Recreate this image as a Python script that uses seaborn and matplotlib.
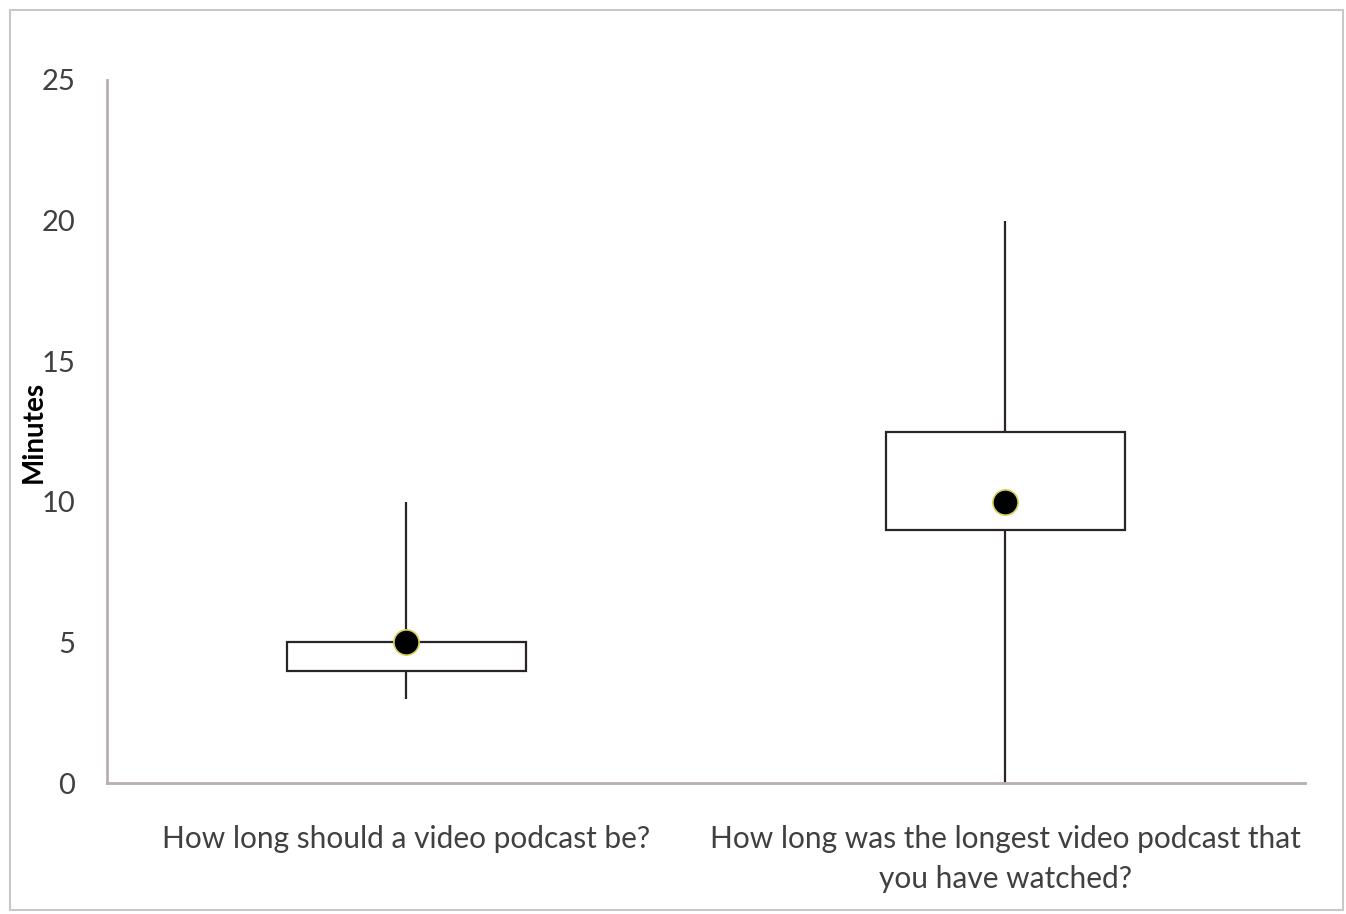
import pandas as pd
import matplotlib
matplotlib.use("Agg")
import matplotlib.pyplot as plt
import seaborn as sns
from matplotlib.patches import Rectangle

sns.set_style("white")
plt.rcParams['font.family'] = ['Lato', 'DejaVu Sans']

# five-number summaries (minutes)
questions = ["How long should a video podcast be?",
             "How long was the longest video podcast that\nyou have watched?"]
minimum = [3, 0]
q1 = [4, 9]
median = [5, 10]
q3 = [5, 12.5]
maximum = [10, 20]
yticks = [0, 5, 10, 15, 20, 25]

rows = []
for i, q in enumerate(questions):
    for v in (minimum[i], q1[i], median[i], q3[i], maximum[i]):
        rows.append({"question": q, "minutes": v})
df = pd.DataFrame(rows)
med = pd.DataFrame({"question": questions, "minutes": median})

fig = plt.figure(figsize=(13.46, 9.14), dpi=100)
ax = fig.add_axes([107/1346, 1 - 783/914, 1198/1346, 703/914])

sns.boxplot(data=df, x="question", y="minutes", whis=(0, 100), width=0.4,
            color="white", linecolor="#2b2424", linewidth=1.6,
            showcaps=False, medianprops={"linewidth": 0}, ax=ax)
sns.scatterplot(data=med, x="question", y="minutes", s=330, color="black",
                edgecolor="#d8d25a", linewidth=1.2, zorder=5, ax=ax)

ax.set_ylim(0, 25)
ax.set_xlim(-0.5, 1.5)
ax.set_yticks(yticks)
ax.set_yticklabels([str(t) for t in yticks], fontsize=21, color="#404040")
ax.set_xticks([0, 1])
ax.set_xticklabels(questions, fontsize=21.5, color="#404040", linespacing=1.55)
ax.tick_params(axis="y", length=0, pad=23)
ax.tick_params(axis="x", length=0, pad=30)
ax.set_xlabel("")
ax.set_ylabel("Minutes", fontsize=20, fontweight="bold", color="black")
ax.yaxis.set_label_coords(-0.05, 0.5)

for s in ["top", "right"]:
    ax.spines[s].set_visible(False)
for s in ["left", "bottom"]:
    ax.spines[s].set_color("#b8b0b0")
    ax.spines[s].set_linewidth(2)

fig.patches.append(Rectangle((10/1346, 4/914), 1333/1346, 900/914,
                             transform=fig.transFigure, fill=False,
                             edgecolor="#c8c8c8", linewidth=1.5))

fig.savefig("out.png", dpi=100)
